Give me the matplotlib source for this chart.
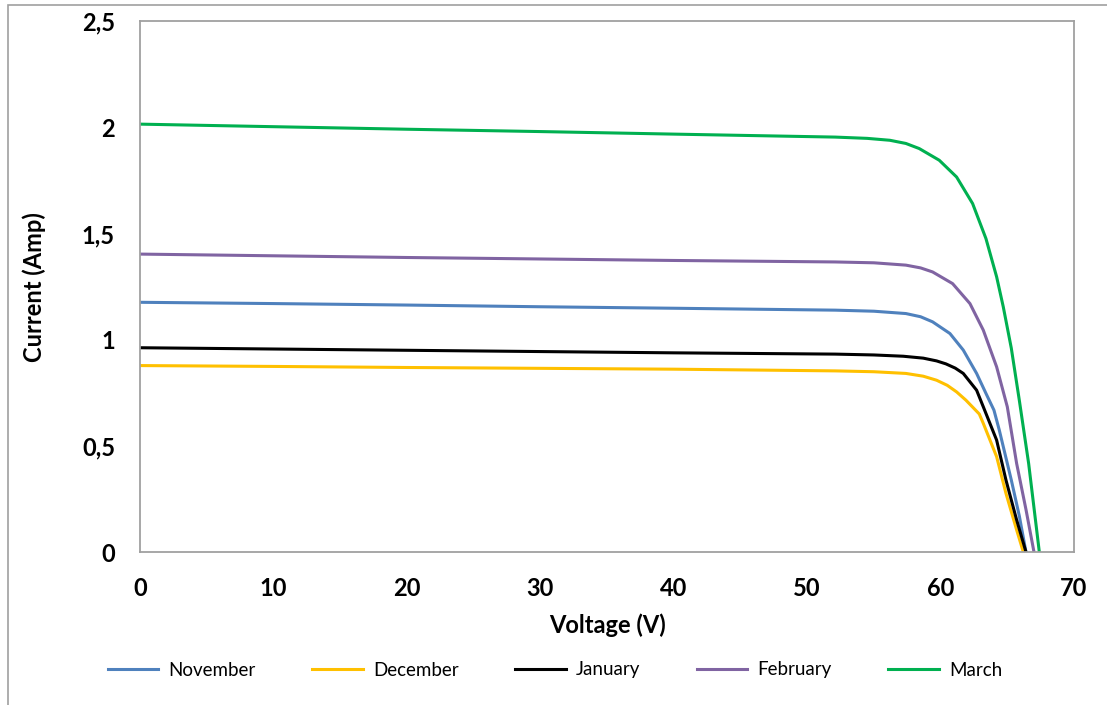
import matplotlib.pyplot as plt
from matplotlib.patches import Rectangle

# I-V curve readings (voltage in V, current in A)
v_nov = [0, 10, 20, 30, 40, 52.1, 55.0, 57.4, 58.5, 59.4, 60.7, 61.7, 62.7, 63.4, 64.0, 64.4, 65.3, 65.9, 66.4]
i_nov = [1.176, 1.170, 1.163, 1.155, 1.148, 1.139, 1.134, 1.123, 1.108, 1.084, 1.029, 0.951, 0.841, 0.747, 0.668, 0.574, 0.339, 0.170, 0.0]

v_dec = [0, 10, 20, 30, 40, 52.1, 55.0, 57.4, 58.7, 59.7, 60.5, 61.2, 61.9, 62.9, 63.2, 64.2, 64.9, 65.7, 66.2]
i_dec = [0.878, 0.874, 0.869, 0.865, 0.861, 0.853, 0.849, 0.841, 0.828, 0.809, 0.785, 0.754, 0.715, 0.650, 0.606, 0.449, 0.276, 0.104, 0.0]

v_jan = [0, 10, 20, 30, 40, 52.1, 55.0, 57.2, 58.7, 59.7, 60.4, 61.1, 61.7, 62.7, 63.2, 64.2, 64.9, 65.7, 66.4]
i_jan = [0.962, 0.956, 0.950, 0.944, 0.938, 0.932, 0.928, 0.922, 0.913, 0.900, 0.886, 0.866, 0.841, 0.762, 0.684, 0.527, 0.339, 0.151, 0.0]

v_feb = [0, 10, 20, 30, 40, 52.1, 55.0, 57.4, 58.5, 59.4, 60.9, 62.2, 63.2, 64.2, 65.0, 65.7, 66.4, 67.0]
i_feb = [1.403, 1.395, 1.387, 1.380, 1.373, 1.366, 1.362, 1.351, 1.338, 1.319, 1.264, 1.170, 1.045, 0.872, 0.684, 0.417, 0.200, 0.0]

v_mar = [0, 10, 20, 30, 40, 52.1, 54.5, 56.2, 57.4, 58.4, 59.9, 61.2, 62.4, 63.4, 64.2, 64.7, 65.3, 65.9, 66.6, 67.4]
i_mar = [2.015, 2.003, 1.991, 1.980, 1.968, 1.954, 1.948, 1.939, 1.924, 1.900, 1.845, 1.766, 1.641, 1.476, 1.296, 1.154, 0.960, 0.715, 0.417, 0.0]

months = ['November', 'December', 'January', 'February', 'March']
colors = ['#4f81bd', '#ffc000', '#000000', '#8064a2', '#00b050']
series = [(v_nov, i_nov), (v_dec, i_dec), (v_jan, i_jan), (v_feb, i_feb), (v_mar, i_mar)]

plt.rcParams['font.family'] = ['Lato', 'DejaVu Sans']

fig = plt.figure(figsize=(11.07, 7.05), dpi=100)
ax = fig.add_axes([0.1265, 0.217, 0.9702 - 0.1265, 0.970 - 0.217])

# outer chart border
fig.patches.append(Rectangle((8 / 1107, -0.1), 1.2, 1 - 5 / 705 + 0.1,
                             transform=fig.transFigure, fill=False,
                             edgecolor='#a0a0a0', linewidth=1.2))

for (v, i), name, c in zip(series, months, colors):
    ax.plot(v, i, color=c, linewidth=2.2, label=name, solid_joinstyle='round')

ax.set_xlim(0, 70)
ax.set_ylim(0, 2.5)
ax.set_xticks(range(0, 71, 10))
ax.set_yticks([0, 0.5, 1, 1.5, 2, 2.5])
ax.set_yticklabels(['0', '0,5', '1', '1,5', '2', '2,5'])
ax.tick_params(length=0, labelsize=17)
ax.tick_params(axis='x', pad=18)
ax.tick_params(axis='y', pad=18)
for lab in ax.get_xticklabels() + ax.get_yticklabels():
    lab.set_fontweight('bold')
for s in ax.spines.values():
    s.set_color('#a0a0a0')
    s.set_linewidth(1.3)

ax.set_xlabel('Voltage (V)', fontsize=17, fontweight='bold', labelpad=10)
ax.set_ylabel('Current (Amp)', fontsize=17, fontweight='bold', labelpad=26)

ax.legend(loc='center', bbox_to_anchor=(555 / 1107, 1 - 670 / 705),
          bbox_transform=fig.transFigure, ncol=5, frameon=False,
          fontsize=13.5, handlelength=2.7, columnspacing=3.0, handletextpad=0.55)

plt.savefig('out.png', dpi=100)
